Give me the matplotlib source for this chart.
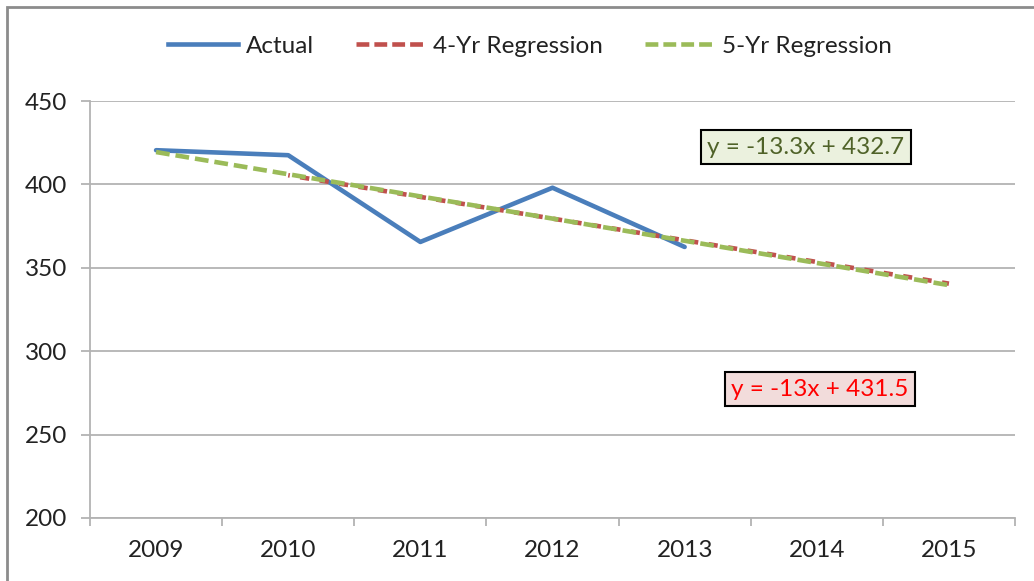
import matplotlib
matplotlib.use("Agg")
import matplotlib.pyplot as plt
from matplotlib.patches import Rectangle
from matplotlib.lines import Line2D

years = ["2009", "2010", "2011", "2012", "2013", "2014", "2015"]
actual = [420.5, 417.5, 365.5, 398.0, 362.5]
reg4 = [405.5, 392.5, 379.5, 366.5, 353.5, 340.5]        # 2010-2015
reg5 = [419.4, 406.1, 392.8, 379.5, 366.2, 352.9, 339.6]  # 2009-2015
eq5 = "y = -13.3x + 432.7"
eq4 = "y = -13x + 431.5"
yticks = [200, 250, 300, 350, 400, 450]

plt.rcParams['font.family'] = ['Lato', 'DejaVu Sans']

W, H = 1034, 581
FS = 17.5
fig = plt.figure(figsize=(W / 100, H / 100), dpi=100)
ax = fig.add_axes([90 / W, (H - 518) / H, (1015 - 90) / W, (518 - 101) / H])

x_all = list(range(len(years)))
LW = 3.3
BLUE, RED, GREEN = "#4A7EBB", "#C0504D", "#9BBB59"
ax.plot(x_all[:len(actual)], actual, color=BLUE, lw=LW, solid_capstyle="round", zorder=3)
ax.plot(x_all[1:], reg4, color=RED, lw=LW, linestyle=(1.65, (2.0, 2.3)), zorder=4)
ax.plot(x_all, reg5, color=GREEN, lw=LW, linestyle=(0, (3.0, 1.3)), zorder=5)

ax.set_xlim(-0.5, len(years) - 0.5)
ax.set_ylim(200, 450)
ax.set_yticks(yticks)
ax.set_xticks(x_all)
ax.set_xticklabels(years)
ax.set_xticks([i - 0.5 for i in range(len(years) + 1)], minor=True)

gc = "#B3B3B3"
ax.grid(axis="y", color=gc, lw=1.3)
ax.set_axisbelow(True)
for s in ["top", "right"]:
    ax.spines[s].set_visible(False)
for s in ["left", "bottom"]:
    ax.spines[s].set_color(gc)
    ax.spines[s].set_linewidth(1.3)
ax.tick_params(axis="y", length=6.5, width=1.3, color=gc, labelsize=FS, pad=10, labelcolor="#222222")
ax.tick_params(axis="x", which="major", length=0, labelsize=FS, pad=16, labelcolor="#222222")
ax.tick_params(axis="x", which="minor", length=6, width=1.3, color=gc)

# equation boxes
fig.text(806 / W, 1 - 147 / H, eq5, ha="center", va="center", fontsize=FS, color="#4F6228",
         bbox=dict(boxstyle="square,pad=0.25", facecolor="#EBF1DE", edgecolor="black", lw=1.5))
fig.text(820 / W, 1 - 389 / H, eq4, ha="center", va="center", fontsize=FS, color="#FF0000",
         bbox=dict(boxstyle="square,pad=0.25", facecolor="#F2DCDB", edgecolor="black", lw=1.5))

# legend
handles = [
    Line2D([], [], color=BLUE, lw=LW),
    Line2D([], [], color=RED, lw=LW, linestyle=(0, (2.8, 1.1))),
    Line2D([], [], color=GREEN, lw=LW, linestyle=(0, (2.8, 1.1))),
]
fig.legend(handles, ["Actual", "4-Yr Regression", "5-Yr Regression"], ncol=3,
           loc="center", bbox_to_anchor=(530 / W, 1 - 46 / H), frameon=False,
           fontsize=FS, handlelength=2.88, handletextpad=0.29, columnspacing=1.73,
           labelcolor="#222222")

# outer frame
fig.patches.append(Rectangle((7 / W, -0.1), 1.2, 1 - 7 / H + 0.1, transform=fig.transFigure,
                             fill=False, edgecolor="#8C8C8C", lw=2.0))

fig.savefig("out.png", dpi=100, facecolor="white")
